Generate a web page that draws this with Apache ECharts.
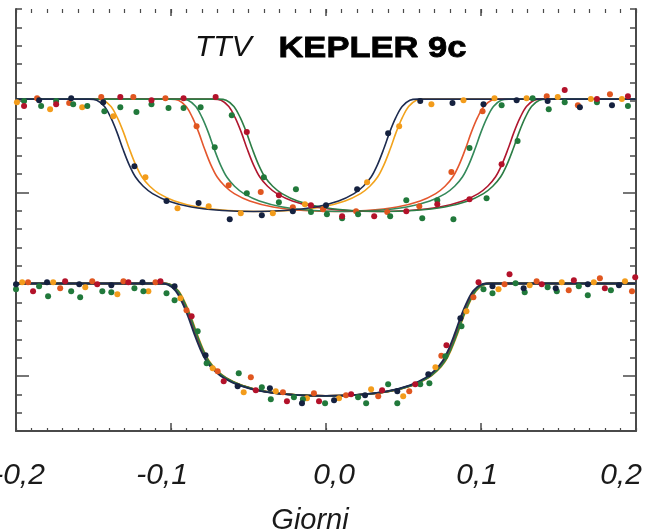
<!DOCTYPE html>
<html>
<head>
<meta charset="utf-8">
<script src="https://cdn.jsdelivr.net/npm/echarts@6/dist/echarts.min.js"></script>
<style>
  html, body { margin: 0; padding: 0; background: #fff; }
  #chart { width: 657px; height: 531px; }
</style>
</head>
<body>
<div id="chart"></div>
<script>
// X axis: days from mid-transit; Y: relative flux (ppt), upper panel offset by +10
const tickLabels = ['-0,2', '-0,1', '0,0', '0,1', '0,2'];

// Transit fit template: time from mid-transit (days) and flux drop (ppt)
const profileDt = [-0.106, -0.101, -0.096, -0.092, -0.088, -0.084, -0.080, -0.076, -0.071, -0.065, -0.055, -0.040, -0.020, 0,
                   0.020, 0.040, 0.055, 0.065, 0.071, 0.076, 0.080, 0.084, 0.088, 0.092, 0.096, 0.101, 0.106];
const profileDrop = [0, 0.06, 0.4, 1.0, 1.8, 2.75, 3.6, 4.25, 4.75, 5.15, 5.55, 5.88, 6.07, 6.13,
                     6.07, 5.88, 5.55, 5.15, 4.75, 4.25, 3.6, 2.75, 1.8, 1.0, 0.4, 0.06, 0];

const fitNames = ['orange', 'orangeRed', 'green', 'crimson', 'green2', 'navy'];
const fitColors = ['#f2a31c', '#e4572e', '#34895a', '#b0172f', '#2c7d45', '#1d2b4f'];
const topBaseline = 10.09;
const bottomBaseline = 0.04;
// mid-transit times: observed (upper) and after TTV correction (lower)
const topMidTimes = [-0.0427, 0.0058, 0.0120, 0.0333, 0.0366, -0.0469];
const bottomMidTimes = [0.0008, 0.0003, -0.0004, 0.0000, 0.0005, -0.0010];

// Photometric points [days, ppt]
const navyTop = [[-0.1851,10.03],[-0.1644,10.14],[-0.1437,9.92],[-0.1236,6.43],[-0.1029,4.53],[-0.0822,4.42],[-0.0621,3.54],
  [-0.0414,3.76],[-0.0214,3.98],[0.0,4.31],[0.0201,5.18],[0.0401,8.23],[0.0608,9.98],[0.0816,9.87],[0.1016,9.81],
  [0.123,10.03],[0.143,9.98],[0.1638,9.65],[0.1845,9.76]];
const navyBottom = [[-0.200,0.0],[-0.180,0.11],[-0.1592,0.0],[-0.1385,-0.05],[-0.1184,0.11],[-0.0977,-0.11],[-0.0777,-3.87],
  [-0.057,-5.56],[-0.0362,-5.67],[-0.0155,-6.49],[0.0052,-6.32],[0.0252,-6.05],[0.046,-5.83],[0.066,-4.91],[0.0867,-1.85],
  [0.1074,-0.11],[0.1275,-0.22],[0.1482,-0.22],[0.1689,0.0],[0.189,-0.05]];

const orangeTop = [[-0.1994,9.92],[-0.178,9.54],[-0.1573,9.65],[-0.1372,9.16],[-0.1165,5.83],[-0.0958,4.14],[-0.0757,4.25],
  [-0.055,3.87],[-0.0343,3.87],[-0.0136,4.36],[0.0265,5.56],[0.0472,8.61],[0.068,9.81],[0.0887,10.03],[0.1087,10.14],
  [0.1294,10.14],[0.1495,10.20],[0.1709,10.09],[0.1909,10.09]];
const orangeBottom = [[-0.196,0.11],[-0.176,0.11],[-0.1553,-0.16],[-0.1346,-0.55],[-0.1146,-0.38],[-0.0939,-0.76],[-0.0731,-4.58],
  [-0.0531,-5.89],[-0.0324,-5.83],[-0.0123,-6.22],[0.0084,-6.22],[0.0291,-5.73],[0.0498,-6.11],[0.0706,-4.53],[0.0906,-1.47],
  [0.1113,-0.27],[0.1314,-0.05],[0.1521,0.11],[0.1728,0.11],[0.1929,0.16]];

const orangeRedTop = [[-0.1864,10.14],[-0.1657,9.87],[-0.145,10.20],[-0.1243,10.20],[-0.1036,10.14],[-0.0835,8.61],[-0.0628,5.40],
  [-0.0421,5.02],[-0.0214,4.20],[-0.0019,4.09],[0.0194,3.98],[0.0395,3.93],[0.0602,4.25],[0.0809,6.11],[0.101,9.43],
  [0.1424,10.25],[0.1625,9.76],[0.1832,10.36]];
const orangeRedBottom = [[-0.1922,0.11],[-0.1715,-0.22],[-0.1508,0.16],[-0.1307,0.16],[-0.110,0.11],[-0.090,-1.42],[-0.0699,-4.74],
  [-0.0485,-5.07],[-0.0278,-5.89],[-0.0078,-5.94],[0.0129,-6.05],[0.0337,-6.11],[0.0537,-5.83],[0.0744,-3.90],[0.0951,-0.71],
  [0.1152,0.0],[0.1359,0.16],[0.1566,-0.33],[0.1767,0.33],[0.1974,-0.38]];

const crimsonTop = [[-0.1948,9.71],[-0.1741,9.81],[-0.1327,10.20],[-0.1126,10.03],[-0.0919,10.14],[-0.0712,10.20],[-0.0511,8.29],
  [-0.0304,4.85],[-0.0097,4.31],[0.0104,3.71],[0.0311,3.71],[0.0518,3.98],[0.0718,4.36],[0.0926,4.63],[0.1133,6.54],
  [0.154,10.58],[0.1748,10.09],[0.1948,10.25]];
const crimsonBottom = [[-0.189,-0.38],[-0.1683,0.16],[-0.1476,0.0],[-0.1275,0.11],[-0.1068,0.16],[-0.0867,-1.74],[-0.066,-5.29],
  [-0.0453,-5.78],[-0.0252,-6.38],[-0.0045,-6.38],[0.0162,-6.00],[0.0362,-5.78],[0.0576,-5.45],[0.0777,-3.33],[0.0984,0.11],
  [0.1184,0.55],[0.1392,0.0],[0.1599,0.22],[0.1799,-0.22],[0.1995,0.38]];

const greenTop = [[-0.1948,9.98],[-0.1838,9.71],[-0.1741,9.98],[-0.1631,9.81],[-0.154,9.71],[-0.143,9.43],[-0.1327,9.65],
  [-0.1223,9.38],[-0.1126,9.81],[-0.1016,9.60],[-0.0919,9.60],[-0.0809,9.65],[-0.0718,7.47],[-0.0608,9.21],[-0.0511,4.96],
  [-0.0401,5.83],[-0.0304,4.47],[-0.0194,5.18],[-0.0097,3.93],[0.0006,3.82],[0.0104,3.60],[0.0207,3.82],[0.0414,3.71],
  [0.0518,4.58],[0.0621,3.60],[0.0718,4.58],[0.0822,3.54],[0.0926,7.42],[0.1036,4.69],[0.1133,9.76],[0.1236,7.80],
  [0.1333,10.14],[0.1437,9.54],[0.154,9.92],[0.1748,9.92],[0.1948,9.71]];
const greenBottom = [[-0.200,-0.27],[-0.1851,-0.11],[-0.1793,-0.65],[-0.1644,-0.38],[-0.1586,-0.71],[-0.1443,-0.38],[-0.1385,-0.44],
  [-0.1236,-0.22],[-0.1178,-0.38],[-0.1029,-0.49],[-0.0977,-0.87],[-0.0828,-2.56],[-0.077,-4.31],[-0.0563,-4.85],[-0.0414,-5.62],
  [-0.0356,-6.27],[-0.0207,-6.16],[-0.0149,-6.27],[-0.0006,-6.49],[0.0207,-6.16],[0.0259,-6.49],[0.0401,-5.45],[0.046,-6.49],
  [0.0608,-5.45],[0.0667,-5.40],[0.077,-3.93],[0.0874,-2.29],[0.1016,-0.27],[0.1074,-0.49],[0.1223,0.05],[0.1282,-0.44],
  [0.143,-0.16],[0.1489,-0.38],[0.1631,-0.11],[0.1689,-0.60],[0.1838,-0.33]];

const pointSets = [
  { name: 'orange', color: '#f39c1b', data: orangeTop.concat(orangeBottom) },
  { name: 'orangeRed', color: '#e0561f', data: orangeRedTop.concat(orangeRedBottom) },
  { name: 'green', color: '#21793b', data: greenTop.concat(greenBottom) },
  { name: 'crimson', color: '#b3122a', data: crimsonTop.concat(crimsonBottom) },
  { name: 'navy', color: '#15213f', data: navyTop.concat(navyBottom) }
];

const X_MIN = -0.2, X_MAX = 0.2;
const Y_MIN = -8, Y_MAX = 15;

function fitCurve(mid, base) {
  const pts = [[X_MIN, base]];
  for (let i = 0; i < profileDt.length; i++) {
    pts.push([mid + profileDt[i], base - profileDrop[i]]);
  }
  pts.push([X_MAX, base]);
  return pts;
}

const series = [];
fitNames.forEach((name, i) => {
  series.push({
    name: name + ' fit', type: 'line', smooth: 0.35, symbol: 'none',
    lineStyle: { color: fitColors[i], width: 1.6 },
    data: fitCurve(topMidTimes[i], topBaseline), z: 2
  });
  series.push({
    name: name + ' fit TTV', type: 'line', smooth: 0.35, symbol: 'none',
    lineStyle: { color: fitColors[i], width: 1.8 },
    data: fitCurve(bottomMidTimes[i], bottomBaseline), z: 2
  });
});
pointSets.forEach(p => {
  series.push({
    name: p.name, type: 'scatter', symbol: 'circle', symbolSize: 6,
    itemStyle: { color: p.color, opacity: 1 }, data: p.data, z: 3
  });
});

const axisColor = '#4a4a4a';
const labelFont = { fontFamily: '"Liberation Sans", Arial, sans-serif', fontStyle: 'italic', fontSize: 30, color: '#1a1a1a' };
const labelShift = [[0, 0, 0, 6], [0, 18, 0, 0], [0, 0, 0, 16], [0, 8, 0, 0], [0, 30, 0, 0]];
const rich = {};
labelShift.forEach((pad, i) => { rich['s' + i] = Object.assign({ padding: pad }, labelFont); });

const hiddenLine = { show: false, onZero: false };
function xAx(extra) {
  return Object.assign({
    type: 'value', min: X_MIN, max: X_MAX, splitLine: { show: false }, axisLabel: { show: false }, axisLine: hiddenLine
  }, extra);
}
function yAx(extra) {
  return Object.assign({
    type: 'value', min: Y_MIN, max: Y_MAX, splitLine: { show: false }, axisLabel: { show: false }, axisLine: hiddenLine
  }, extra);
}

const option = {
  backgroundColor: '#ffffff',
  animation: false,
  grid: { left: 16, right: 21, top: 9, bottom: 100, containLabel: false, outerBoundsMode: 'none' },
  graphic: [
    { type: 'text', left: 195, top: 33, z: 10,
      style: { text: 'TTV', font: 'italic 30px "Liberation Sans", Arial, sans-serif', fill: '#111' } },
    { type: 'text', left: 278, top: 33, scaleX: 1.15, z: 10,
      style: { text: 'KEPLER 9c', font: 'bold 30px "Liberation Sans", Arial, sans-serif', fill: '#000',
               stroke: '#000', lineWidth: 0.8 } }
  ],
  xAxis: [
    xAx({
      position: 'bottom', interval: 0.1,
      axisLine: { show: true, onZero: false, lineStyle: { color: axisColor, width: 2 } },
      axisTick: { show: true, inside: true, length: 8, lineStyle: { color: axisColor, width: 1.5 } },
      axisLabel: {
        show: true, margin: 30, showMinLabel: true, showMaxLabel: true,
        formatter: v => { const i = Math.round((v - X_MIN) / 0.1); return '{s' + i + '|' + tickLabels[i] + '}'; },
        rich: rich
      },
      name: 'Giorni', nameLocation: 'middle', nameGap: 75,
      nameTextStyle: Object.assign({}, labelFont, { fontSize: 29, padding: [0, 32, 0, 0] })
    }),
    xAx({ position: 'bottom', interval: 0.01,
      axisTick: { show: true, inside: true, length: 3, lineStyle: { color: axisColor, width: 1.2 } } }),
    xAx({ position: 'top', interval: 0.1,
      axisTick: { show: true, inside: true, length: 7, lineStyle: { color: axisColor, width: 1.5 } } }),
    xAx({ position: 'top', interval: 0.01,
      axisTick: { show: true, inside: true, length: 4, lineStyle: { color: axisColor, width: 1.2 } } })
  ],
  yAxis: [
    yAx({ position: 'left', interval: 1,
      axisLine: { show: true, onZero: false, lineStyle: { color: axisColor, width: 2 } },
      axisTick: { show: true, inside: true, length: 6, lineStyle: { color: axisColor, width: 1.5 } } }),
    yAx({ position: 'left',
      axisTick: { show: true, inside: true, length: 13, customValues: [-5, 5], lineStyle: { color: axisColor, width: 1.5 } } }),
    yAx({ position: 'right', interval: 1,
      axisLine: { show: true, onZero: false, lineStyle: { color: axisColor, width: 2 } },
      axisTick: { show: true, inside: true, length: 6, lineStyle: { color: axisColor, width: 1.5 } } }),
    yAx({ position: 'right',
      axisTick: { show: true, inside: true, length: 13, customValues: [-5, 5], lineStyle: { color: axisColor, width: 1.5 } } })
  ],
  series: series
};

const chart = echarts.init(document.getElementById('chart'), null, { renderer: 'canvas' });
chart.setOption(option);
</script>
</body>
</html>
